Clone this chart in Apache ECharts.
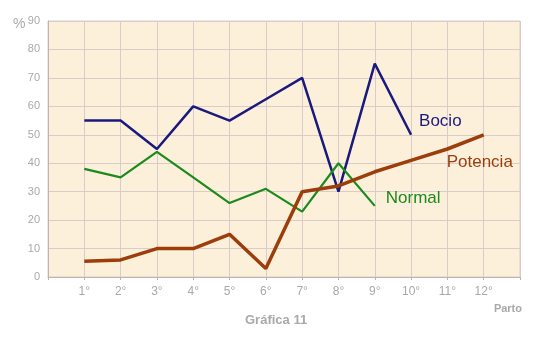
<!DOCTYPE html>
<html><head><meta charset="utf-8">
<script src="https://cdn.jsdelivr.net/npm/echarts@6/dist/echarts.min.js"></script>
<style>html,body{margin:0;padding:0;background:#fff}#c{width:541px;height:349px}</style>
</head><body><div id="c"></div>
<script>
const partos = [1,2,3,4,5,6,7,8,9,10,11,12];
const tickLabels = ['1°','2°','3°','4°','5°','6°','7°','8°','9°','10°','11°','12°'];
const bocio = [55,55,45,60,55,62.5,70,30,75,50];
const normal = [38,35,44,35,26,31,23,40,25];
const potencia = [5.5,6,10,10,15,3,30,32,37,41,45,50];
const yTicks = [0,10,20,30,40,50,60,70,80,90];

function pairs(vals){ return vals.map((v,i)=>[partos[i],v]); }

const chart = echarts.init(document.getElementById('c'), null, {renderer:'canvas'});
const grey = '#a9a9a9';
const ff = 'Arial, Liberation Sans';
chart.setOption({
  animation:false,
  backgroundColor:'#fff',
  grid:{left:48,right:21,top:21,bottom:72,show:true,backgroundColor:'#fcf0da',borderColor:'#d9cfc4',borderWidth:1},
  xAxis:{type:'value',min:0,max:13,interval:1,
    axisLine:{show:true,lineStyle:{color:'#bdb6ae'}},
    axisTick:{show:true,length:3,lineStyle:{color:'#bdb6ae'}},
    splitLine:{show:true,lineStyle:{color:'#d9cccb',width:1}},
    axisLabel:{color:grey,fontSize:12,fontFamily:ff,margin:9,
      formatter:v=>(v>=1&&v<=12)?tickLabels[v-1]:''},
    name:'Parto',nameLocation:'end',nameGap:0,
    nameTextStyle:{color:grey,fontWeight:'bold',fontSize:11,fontFamily:ff,align:'right',verticalAlign:'top',padding:[26,-2,0,0]}
  },
  yAxis:{type:'value',min:0,max:90,interval:10,
    axisLine:{show:true,lineStyle:{color:'#bdb6ae'}},
    axisTick:{show:false},
    splitLine:{show:true,lineStyle:{color:'#d9cccb',width:1}},
    axisLabel:{color:grey,fontSize:11,fontFamily:ff,margin:8,
      formatter:v=>yTicks.includes(v)?String(v):''}
  },
  graphic:[
    {type:'text',left:13,top:17,style:{text:'%',fill:grey,font:'14px Arial, Liberation Sans'}},
    {type:'text',left:245,top:314,style:{text:'Gráfica 11',fill:grey,font:'bold 13px Arial, Liberation Sans'}}
  ],
  series:[
    {name:'Bocio',type:'line',data:pairs(bocio),symbol:'none',
      lineStyle:{color:'#1a1a7e',width:2.5},
      endLabel:{show:true,formatter:'Bocio',color:'#1a1a7e',fontSize:17,fontFamily:ff,offset:[0,-13]}},
    {name:'Normal',type:'line',data:pairs(normal),symbol:'none',
      lineStyle:{color:'#1c8a1c',width:2.2},
      endLabel:{show:true,formatter:'Normal',color:'#1c8a1c',fontSize:17,fontFamily:ff,offset:[3,-8]}},
    {name:'Potencia',type:'line',data:pairs(potencia),symbol:'none',
      lineStyle:{color:'#9c3d0c',width:3.5},
      endLabel:{show:true,formatter:'Potencia',color:'#9c3d0c',fontSize:17,fontFamily:ff,offset:[-45,28]}}
  ]
});
</script></body></html>
